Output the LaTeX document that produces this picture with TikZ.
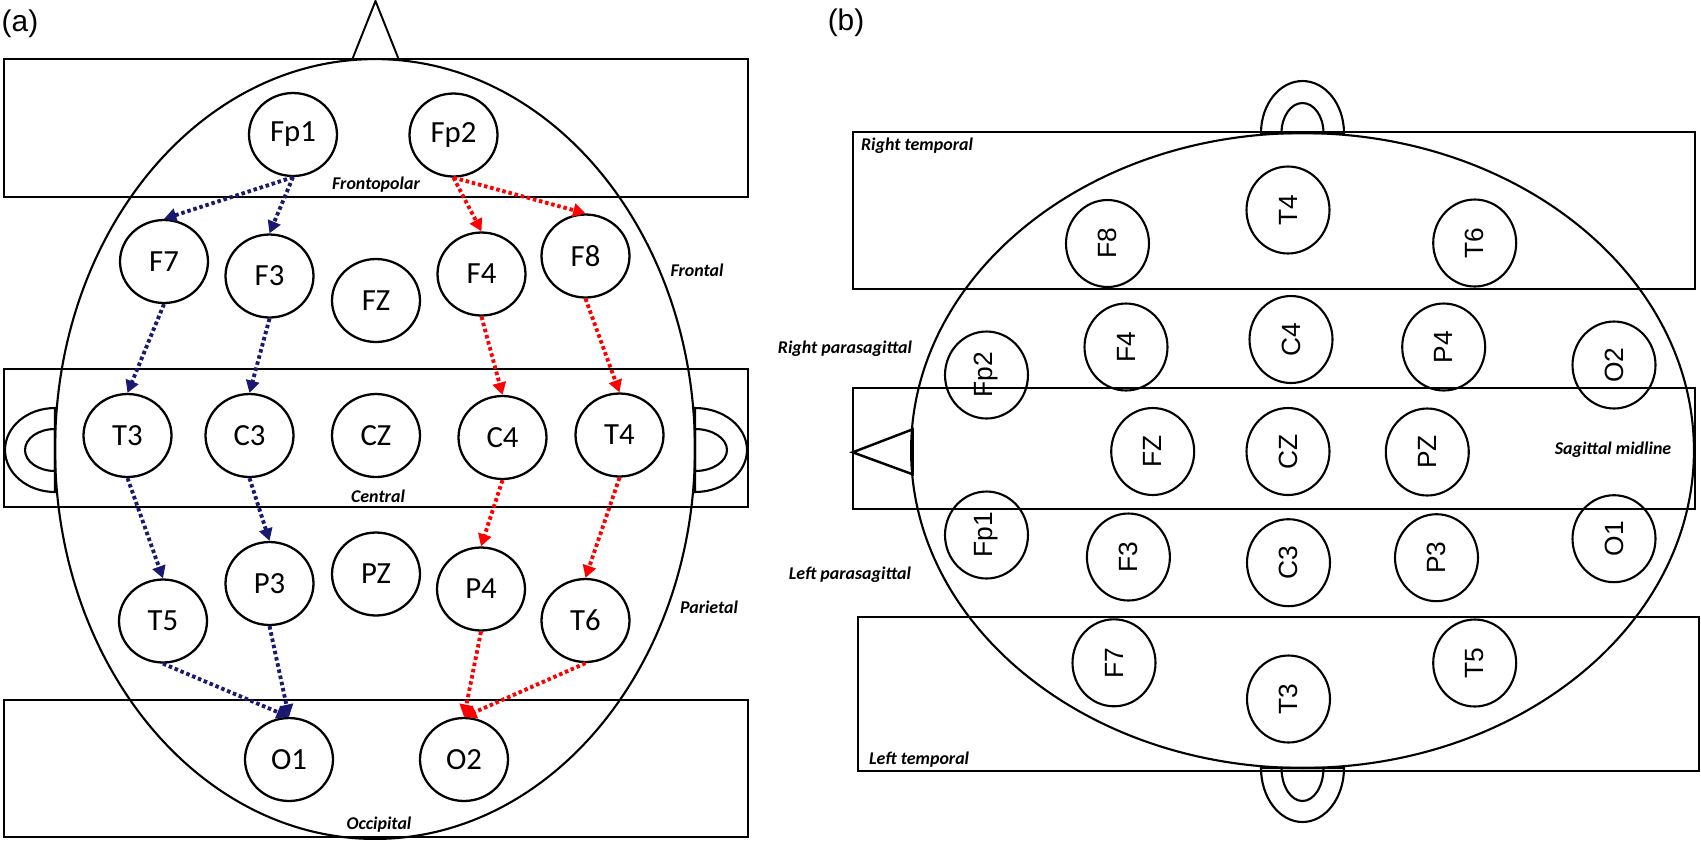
\documentclass[tikz,border=0pt]{standalone}
\usepackage{fontspec}
\setmainfont{Carlito}
\newfontfamily\arialfont{Liberation Sans}
\usetikzlibrary{shapes.geometric,arrows.meta}
\definecolor{navyarrow}{RGB}{25,25,112}
\definecolor{redarrow}{RGB}{255,0,0}

\begin{document}
\begin{tikzpicture}[x=0.02cm,y=-0.02cm,line width=1.2pt,
  elec/.style={draw,ellipse,line width=1.3pt,inner sep=0pt,minimum width=1.76cm,minimum height=1.66cm,font=\fontsize{17.5}{20}\selectfont},
  elecb/.style={draw,ellipse,line width=1.2pt,inner sep=0pt,rotate=90,minimum width=1.74cm,minimum height=1.66cm,font=\arialfont\fontsize{15}{18}\selectfont},
  region/.style={font=\bfseries\itshape\fontsize{10.2}{12}\selectfont,inner sep=0pt},
  lead/.style={line width=2.2pt,dash pattern=on 2pt off 1.6pt,-{Triangle[length=7pt,width=7.5pt]}},
  panel/.style={font=\arialfont\fontsize{17}{20}\selectfont,inner sep=0pt}]
\useasboundingbox (0,0) rectangle (1701,840);

\node[panel] (tagA) at (20,24) {(a)};
\node[panel] (tagB) at (846,23) {(b)};

\draw[line width=1.1pt] (352,60) -- (375.5,1) -- (399,60);
\draw[line width=1.6pt] (4,59) rectangle (748,197);
\draw[line width=1.6pt] (4,369) rectangle (748,507);
\draw[line width=1.6pt] (4,700) rectangle (748,837);
\draw (375,449) ellipse (6.4cm and 7.8cm);
\draw (55,408) arc[start angle=90,end angle=270,x radius=1cm,y radius=0.84cm] -- cycle;
\draw (55,429) arc[start angle=90,end angle=270,x radius=0.6cm,y radius=0.42cm] -- cycle;
\draw (695,408) arc[start angle=90,end angle=-90,x radius=1.04cm,y radius=0.84cm] -- cycle;
\draw (695,429) arc[start angle=90,end angle=-90,x radius=0.64cm,y radius=0.42cm] -- cycle;

\node[region] (frontopolar) at (376,185) {Frontopolar};
\node[region] (frontal) at (697,270) {Frontal};
\node[region] (central) at (378,496) {Central};
\node[region] (parietal) at (709,607) {Parietal};
\node[region] (occipital) at (379,825) {Occipital};

\node[elec] (aFp1) at (293,134.5) {Fp1};
\node[elec] (aFp2) at (453.5,135) {Fp2};
\node[elec] (aF7) at (164,261.5) {F7};
\node[elec] (aF3) at (269.5,276) {F3};
\node[elec] (aFZ) at (376,300.5) {FZ};
\node[elec] (aF4) at (481.5,274) {F4};
\node[elec] (aF8) at (585.5,256) {F8};
\node[elec] (aT3) at (127.5,435.5) {T3};
\node[elec] (aC3) at (249.5,435.5) {C3};
\node[elec] (aCZ) at (376,435.5) {CZ};
\node[elec] (aC4) at (502.5,437.5) {C4};
\node[elec] (aT4) at (619.5,435) {T4};
\node[elec] (aT5) at (163,621) {T5};
\node[elec] (aP3) at (269.5,583.5) {P3};
\node[elec] (aPZ) at (376,574) {PZ};
\node[elec] (aP4) at (481,589) {P4};
\node[elec] (aT6) at (585.5,620.5) {T6};
\node[elec] (aO1) at (289,759.5) {O1};
\node[elec] (aO2) at (464,759.5) {O2};

\draw[lead,navyarrow] (aFp1.south) -- (aF7.north);
\draw[lead,navyarrow] (aFp1.south) -- (aF3.north);
\draw[lead,navyarrow] (aF7.south) -- (aT3.north);
\draw[lead,navyarrow] (aF3.south) -- (aC3.north);
\draw[lead,navyarrow] (aT3.south) -- (aT5.north);
\draw[lead,navyarrow] (aC3.south) -- (aP3.north);
\draw[lead,navyarrow] (aT5.south) -- (aO1.north);
\draw[lead,navyarrow] (aP3.south) -- (aO1.north);
\draw[lead,redarrow] (aFp2.south) -- (aF4.north);
\draw[lead,redarrow] (aFp2.south) -- (aF8.north);
\draw[lead,redarrow] (aF4.south) -- (aC4.north);
\draw[lead,redarrow] (aF8.south) -- (aT4.north);
\draw[lead,redarrow] (aC4.south) -- (aP4.north);
\draw[lead,redarrow] (aT4.south) -- (aT6.north);
\draw[lead,redarrow] (aP4.south) -- (aO2.north);
\draw[lead,redarrow] (aT6.south) -- (aO2.north);

\draw[line width=1.6pt] (853,132) rectangle (1695,289);
\draw[line width=1.6pt] (853,388) rectangle (1695,509);
\draw[line width=1.6pt] (858,617) rectangle (1699,771);
\draw (1302.5,450.5) ellipse (7.83cm and 6.35cm);
\draw[line width=1.4pt] (912.7,429.3) -- (852.7,452.3) -- (912.7,474.3) -- cycle;
\draw (1261,133) arc[start angle=180,end angle=0,x radius=0.83cm,y radius=1.04cm] -- cycle;
\draw (1281.5,133) arc[start angle=180,end angle=0,x radius=0.42cm,y radius=0.6cm] -- cycle;
\draw (1261,768) arc[start angle=180,end angle=360,x radius=0.83cm,y radius=1.08cm] -- cycle;
\draw (1281.5,768) arc[start angle=180,end angle=360,x radius=0.42cm,y radius=0.66cm] -- cycle;

\node[region,anchor=west] (rtemporal) at (860,146) {Right temporal};
\node[region,anchor=east] (rparasag) at (913,349) {Right parasagittal};
\node[region] (midline) at (1613,450) {Sagittal midline};
\node[region,anchor=east] (lparasag) at (912,575) {Left parasagittal};
\node[region,anchor=west] (ltemporal) at (868,760) {Left temporal};

\node[elecb] (bF8) at (1107.5,243.5) {F8};
\node[elecb] (bT4) at (1288,210) {T4};
\node[elecb] (bT6) at (1474.7,243) {T6};
\node[elecb] (bFp2) at (986.5,375) {Fp2};
\node[elecb] (bF4) at (1126,347) {F4};
\node[elecb] (bC4) at (1291,339.5) {C4};
\node[elecb] (bP4) at (1443.7,347) {P4};
\node[elecb] (bO2) at (1614,365) {O2};
\node[elecb] (bFZ) at (1152.7,451.5) {FZ};
\node[elecb] (bCZ) at (1288,451.5) {CZ};
\node[elecb] (bPZ) at (1427.3,452) {PZ};
\node[elecb] (bFp1) at (986.5,535) {Fp1};
\node[elecb] (bF3) at (1128.4,557) {F3};
\node[elecb] (bC3) at (1288.5,562.7) {C3};
\node[elecb] (bP3) at (1436.5,557.7) {P3};
\node[elecb] (bO1) at (1614,538.7) {O1};
\node[elecb] (bF7) at (1114,662.8) {F7};
\node[elecb] (bT3) at (1288.5,699) {T3};
\node[elecb] (bT5) at (1474.7,663) {T5};
\end{tikzpicture}
\end{document}
